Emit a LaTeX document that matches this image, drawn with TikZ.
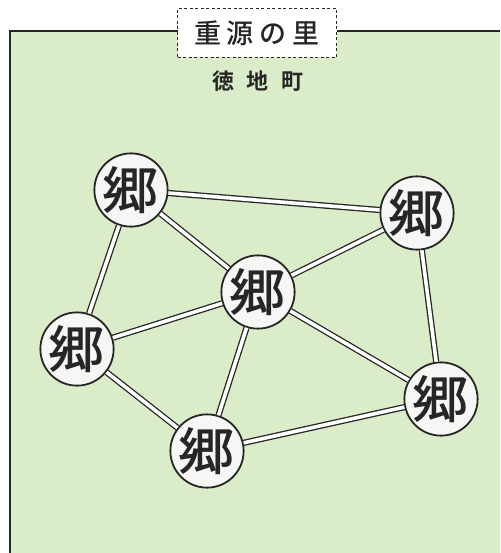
\documentclass[tikz,border=0pt]{standalone}
\usepackage{fontspec}
\newfontfamily\cjk{Noto Sans CJK JP Medium}
\newfontfamily\cjkbold{Noto Sans CJK JP Bold}
\newfontfamily\cjkwide[FakeStretch = 1.1]{Noto Sans CJK JP Medium}
\usepackage{xcolor}
\definecolor{mapgreen}{HTML}{DAECC8}
\definecolor{mapline}{HTML}{262626}
\definecolor{townfill}{HTML}{F6F6F4}

\tikzset{
  town/.style = {draw = mapline, line width = 1.8pt, fill = townfill, circle, minimum size = 69pt, inner sep = 0pt, text = mapline, font = \cjkwide\fontsize{51}{51}\selectfont},
  road/.style = {draw = mapline, line width = 1.3pt, double = white, double distance = 3.6pt},
}

\begin{document}
\begin{tikzpicture}[x = 1pt, y = -1pt]
        \useasboundingbox (0, 0) rectangle (500, 553);

        % Frame
        \fill [mapgreen] (10, 31) rectangle (500, 553);
        \draw [mapline, line width = 1.2pt] (10, 553) -- (10, 31) -- (500, 31);

        % Title
        \node [draw = mapline, dashed, dash pattern = on 3pt off 2.5pt, line width = 1pt, fill = white, minimum width = 159pt, minimum height = 49pt, inner sep = 0pt, text = mapline, font = \cjk\fontsize{27}{27}\selectfont] (title) at (257, 33) {重\hspace{6pt}源\hspace{6pt}の\hspace{6pt}里};
        \node [text = mapline, font = \cjkbold\fontsize{22}{22}\selectfont] (place) at (258, 81) {徳\hspace{13pt}地\hspace{13pt}町};

        % Nodes
        \node [town] (nw) at (131, 190) {郷};
        \node [town] (ne) at (417, 213) {郷};
        \node [town] (mid) at (258, 292) {郷};
        \node [town] (w) at (77, 349) {郷};
        \node [town] (se) at (441, 399) {郷};
        \node [town] (s) at (207, 451) {郷};

        % Draw the links
        \draw [road] (nw) -- (ne);
        \draw [road] (nw) -- (mid);
        \draw [road] (nw) -- (w);
        \draw [road] (ne) -- (mid);
        \draw [road] (ne) -- (se);
        \draw [road] (mid) -- (w);
        \draw [road] (mid) -- (s);
        \draw [road] (mid) -- (se);
        \draw [road] (w) -- (s);
        \draw [road] (s) -- (se);

    \end{tikzpicture}
\end{document}
